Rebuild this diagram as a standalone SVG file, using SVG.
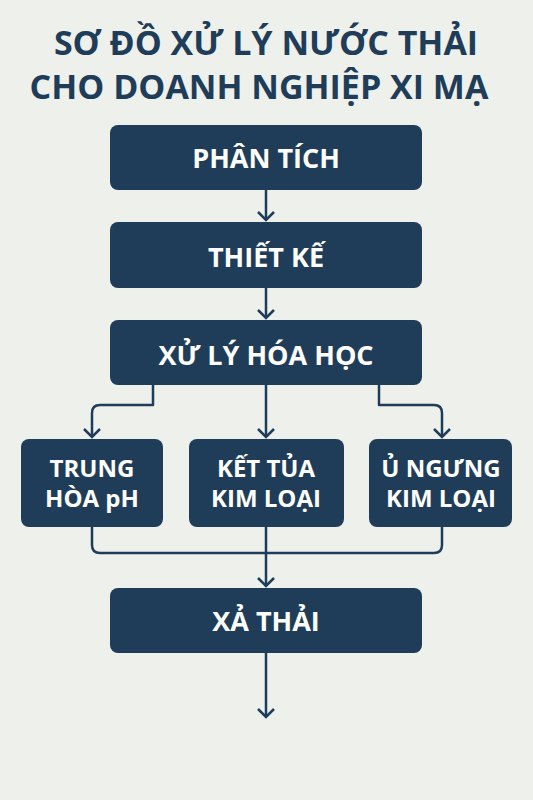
<svg xmlns="http://www.w3.org/2000/svg" width="533" height="800" viewBox="0 0 533 800">
<defs>
<style>
.bg{fill:#eef0ec}
.box{fill:#1f3d58}
.t{font-family:"Open Sans","Noto Sans","DejaVu Sans",sans-serif;font-weight:700;fill:#ffffff;text-anchor:middle}
.big{font-size:27px}
.sm{font-size:24px}
.title{font-family:"Open Sans","Noto Sans","DejaVu Sans",sans-serif;font-weight:700;fill:#1f3d58;font-size:34px;text-anchor:middle}
.c{fill:none;stroke:#1f3d58;stroke-width:2.5;stroke-linejoin:round}
</style>
<marker id="ah" viewBox="0 0 20 20" refX="18" refY="10" markerWidth="20" markerHeight="20" markerUnits="userSpaceOnUse" orient="auto">
<path d="M10,2 L18,10 L10,18" fill="none" stroke="#1f3d58" stroke-width="2.5"/>
</marker>
</defs>
<rect class="bg" x="0" y="0" width="533" height="800"/>
<g id="title">
<text class="title" x="266" y="55">SƠ ĐỒ XỬ LÝ NƯỚC THẢI</text>
<text class="title" x="259" y="99">CHO DOANH NGHIỆP XI MẠ</text>
</g>
<g id="connectors">
<path class="c" d="M266,190 V220" marker-end="url(#ah)"/>
<path class="c" d="M266,288 V318" marker-end="url(#ah)"/>
<path class="c" d="M153,385 V405 H100 Q92,405 92,413 V437" marker-end="url(#ah)"/>
<path class="c" d="M266,385 V437" marker-end="url(#ah)"/>
<path class="c" d="M379,385 V405 H434 Q442,405 442,413 V437" marker-end="url(#ah)"/>
<path class="c" d="M92,527 V545 Q92,553 100,553 H434 Q442,553 442,545 V527"/>
<path class="c" d="M266,527 V586" marker-end="url(#ah)"/>
<path class="c" d="M266,653 V717" marker-end="url(#ah)"/>
</g>
<g id="n1">
<rect class="box" x="110" y="125" width="312" height="65" rx="8"/>
<text class="t big" x="266" y="168">PHÂN TÍCH</text>
</g>
<g id="n2">
<rect class="box" x="110" y="222" width="312" height="66" rx="8"/>
<text class="t big" x="266" y="267">THIẾT KẾ</text>
</g>
<g id="n3">
<rect class="box" x="110" y="320" width="312" height="65" rx="8"/>
<text class="t big" x="266" y="365">XỬ LÝ HÓA HỌC</text>
</g>
<g id="n4">
<rect class="box" x="21" y="439" width="142" height="88" rx="8"/>
<text class="t sm" x="92" y="477">TRUNG</text>
<text class="t sm" x="92" y="507">HÒA pH</text>
</g>
<g id="n5">
<rect class="box" x="189" y="439" width="155" height="88" rx="8"/>
<text class="t sm" x="266" y="477">KẾT TỦA</text>
<text class="t sm" x="266" y="507">KIM LOẠI</text>
</g>
<g id="n6">
<rect class="box" x="369" y="439" width="143" height="88" rx="8"/>
<text class="t sm" x="441" y="477">Ủ NGƯNG</text>
<text class="t sm" x="441" y="507">KIM LOẠI</text>
</g>
<g id="n7">
<rect class="box" x="110" y="588" width="312" height="65" rx="8"/>
<text class="t big" x="266" y="631">XẢ THẢI</text>
</g>
</svg>
